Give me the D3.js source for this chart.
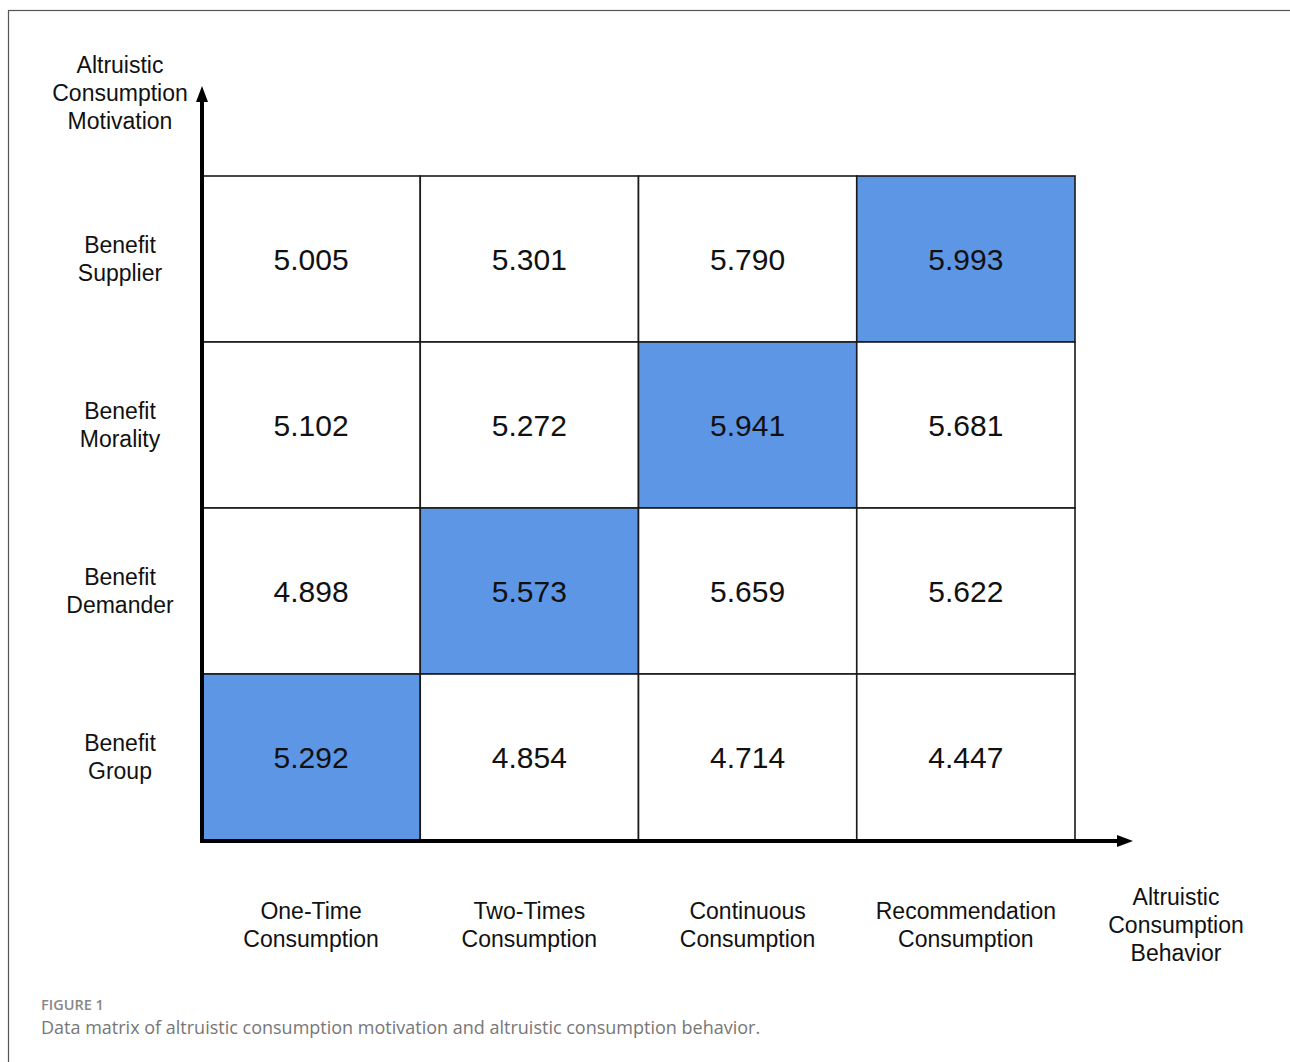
<!DOCTYPE html>
<html>
<head>
	<meta charset="utf-8">
	<title>Data matrix</title>
	<script src="https://d3js.org/d3.v7.min.js" charset="utf-8"></script>
	<style type="text/css">
		body {
			margin: 0;
			background: #fff;
		}
		svg text {
			font-family: 'Liberation Sans', Arial, sans-serif;
			fill: #111;
		}
		.caption text {
			font-family: 'Open Sans', 'Lato', sans-serif;
		}
	</style>
</head>
<body>
	<script type="text/javascript">
		var w = 1290;
		var h = 1062;

		// rows (top to bottom) = motivation, columns = behavior
		var rows = ['Benefit Supplier', 'Benefit Morality', 'Benefit Demander', 'Benefit Group'];
		var rowLabels = [['Benefit', 'Supplier'], ['Benefit', 'Morality'], ['Benefit', 'Demander'], ['Benefit', 'Group']];
		var cols = ['One-Time Consumption', 'Two-Times Consumption', 'Continuous Consumption', 'Recommendation Consumption'];
		var colLabels = [['One-Time', 'Consumption'], ['Two-Times', 'Consumption'], ['Continuous', 'Consumption'], ['Recommendation', 'Consumption']];

		var oneTime        = [5.005, 5.102, 4.898, 5.292];
		var twoTimes       = [5.301, 5.272, 5.573, 4.854];
		var continuous     = [5.790, 5.941, 5.659, 4.714];
		var recommendation = [5.993, 5.681, 5.622, 4.447];

		var yTitle = ['Altruistic', 'Consumption', 'Motivation'];
		var xTitle = ['Altruistic', 'Consumption', 'Behavior'];

		var series = [oneTime, twoTimes, continuous, recommendation];
		var cells = [];
		series.forEach(function (vals, ci) {
			var mx = d3.max(vals);
			vals.forEach(function (v, ri) {
				cells.push({ row: rows[ri], col: cols[ci], value: v, top: v === mx });
			});
		});

		var svg = d3.select('body')
			.append('svg')
			.attr('width', w)
			.attr('height', h);

		// outer frame
		svg.append('rect')
			.attr('x', 8.5)
			.attr('y', 10.5)
			.attr('width', w + 20)
			.attr('height', h + 20)
			.attr('fill', 'none')
			.attr('stroke', '#555')
			.attr('stroke-width', 1.2);

		var x = d3.scaleBand().domain(cols).range([202, 1075]);
		var y = d3.scaleBand().domain(rows).range([176, 840]);

		var cell = svg.append('g')
			.selectAll('g')
			.data(cells)
			.enter()
			.append('g');

		cell.append('rect')
			.attr('x', function (d) { return x(d.col); })
			.attr('y', function (d) { return y(d.row); })
			.attr('width', x.bandwidth())
			.attr('height', y.bandwidth())
			.attr('fill', function (d) { return d.top ? '#5e96e6' : '#fff'; })
			.attr('stroke', '#1a1a1a')
			.attr('stroke-width', 1.6);

		cell.append('text')
			.text(function (d) { return d3.format('.3f')(d.value); })
			.attr('x', function (d) { return x(d.col) + x.bandwidth() / 2; })
			.attr('y', function (d) { return y(d.row) + y.bandwidth() / 2; })
			.attr('dy', '0.36em')
			.attr('text-anchor', 'middle')
			.style('font-size', '30px');

		// row labels
		svg.append('g')
			.selectAll('text')
			.data(rows)
			.enter()
			.append('text')
			.attr('text-anchor', 'middle')
			.style('font-size', '23px')
			.attr('x', 120)
			.attr('y', function (d) { return y(d) + y.bandwidth() / 2; })
			.each(function (d, i) {
				var t = d3.select(this);
				rowLabels[i].forEach(function (s, k) {
					t.append('tspan')
						.attr('x', 120)
						.attr('dy', k === 0 ? '-0.25em' : '1.22em')
						.text(s);
				});
			});

		// column labels
		svg.append('g')
			.selectAll('text')
			.data(cols)
			.enter()
			.append('text')
			.attr('text-anchor', 'middle')
			.style('font-size', '23px')
			.attr('y', 919)
			.each(function (d, i) {
				var t = d3.select(this);
				var cx = x(d) + x.bandwidth() / 2;
				colLabels[i].forEach(function (s, k) {
					t.append('tspan')
						.attr('x', cx)
						.attr('dy', k === 0 ? 0 : 28)
						.text(s);
				});
			});

		// axes with arrows
		svg.append('line')
			.attr('x1', 202).attr('y1', 842)
			.attr('x2', 202).attr('y2', 100)
			.attr('stroke', '#000').attr('stroke-width', 4);
		svg.append('path')
			.attr('d', 'M202,86 L208,102 L196,102 Z')
			.attr('fill', '#000');

		svg.append('line')
			.attr('x1', 200).attr('y1', 841)
			.attr('x2', 1120).attr('y2', 841)
			.attr('stroke', '#000').attr('stroke-width', 4);
		svg.append('path')
			.attr('d', 'M1133,841 L1117,835 L1117,847 Z')
			.attr('fill', '#000');

		// axis titles
		var yt = svg.append('text')
			.attr('text-anchor', 'middle')
			.style('font-size', '23px');
		yTitle.forEach(function (s, k) {
			yt.append('tspan').attr('x', 120).attr('y', 73 + k * 28).text(s);
		});

		var xt = svg.append('text')
			.attr('text-anchor', 'middle')
			.style('font-size', '23px');
		xTitle.forEach(function (s, k) {
			xt.append('tspan').attr('x', 1176).attr('y', 905 + k * 28).text(s);
		});

		// caption
		var cap = svg.append('g').attr('class', 'caption');
		cap.append('text')
			.text('FIGURE 1')
			.attr('x', 41)
			.attr('y', 1010)
			.style('font-size', '14.5px')
			.style('font-weight', 600)
			.style('fill', '#888');
		cap.append('text')
			.text('Data matrix of altruistic consumption motivation and altruistic consumption behavior.')
			.attr('x', 41)
			.attr('y', 1034)
			.style('font-size', '18px')
			.style('fill', '#777');
	</script>
</body>
</html>
